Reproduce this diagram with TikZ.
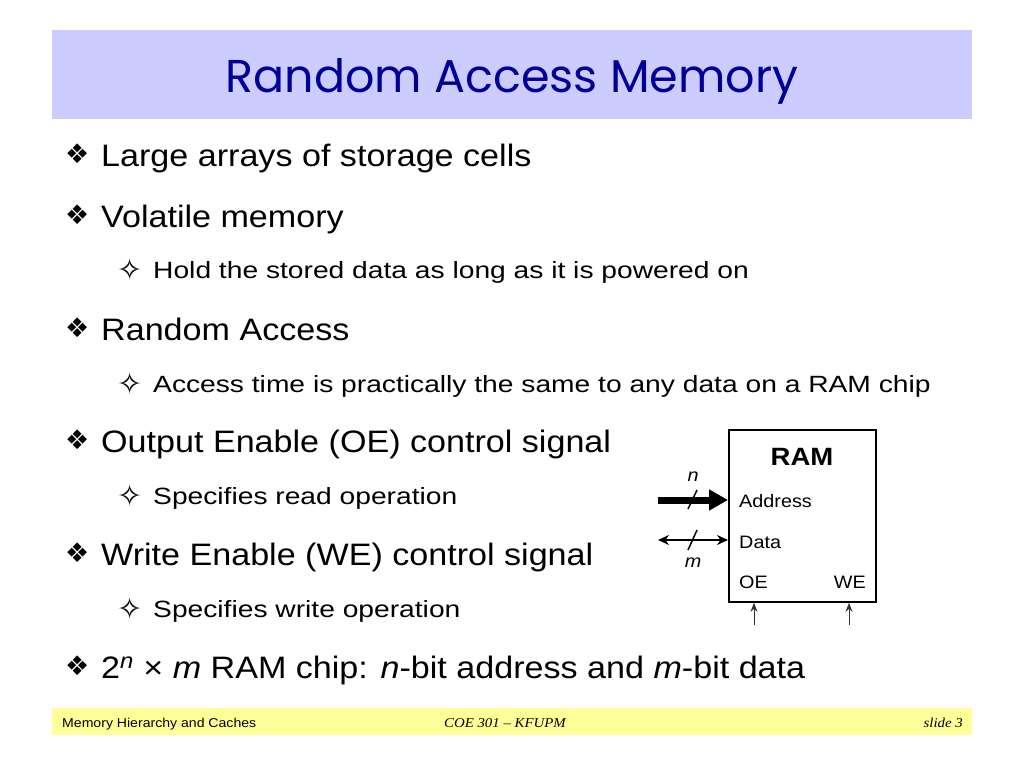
\documentclass[tikz,border=0pt]{standalone}
\usepackage{fontspec}
\setmainfont{Liberation Sans}[FakeStretch=1.1]
\newfontfamily\subfont{Liberation Sans}[FakeStretch=1.2]
\newfontfamily\symfont{DejaVu Sans}
\newfontfamily\titlefont{Poppins}
\newfontfamily\footserif{Liberation Serif}[FakeStretch=1.1]
\usetikzlibrary{arrows.meta}
\definecolor{titleband}{RGB}{204,204,255}
\definecolor{titleblue}{RGB}{0,0,153}
\definecolor{footband}{RGB}{255,255,153}
\newcommand{\mainbul}{\makebox[36pt][l]{\raisebox{2.5pt}{\symfont\fontsize{27}{27}\selectfont ❖}}}
\newcommand{\subbul}{\makebox[36pt][l]{\raisebox{-2.5pt}{\symfont\fontsize{30}{30}\selectfont ✧}}}
\tikzset{
	item/.style={anchor=base west,inner sep=0pt,font=\fontsize{31}{31}\selectfont},
	subitem/.style={anchor=base west,inner sep=0pt,font=\subfont\fontsize{23.5}{23.5}\selectfont},
	pin/.style={anchor=base west,inner sep=0pt,font=\fontsize{18}{18}\selectfont},
	foot/.style={inner sep=0pt,font=\fontsize{12.8}{12.8}\selectfont}
}
\begin{document}
\begin{tikzpicture}[x=1pt,y=-1pt]
	\useasboundingbox (0,0) rectangle (1024,768);
	\fill [titleband] (52,30) rectangle (972,119);
	\fill [footband] (52,708) rectangle (972,735);
	\node [anchor=base,inner sep=0pt,text=titleblue,font=\titlefont\fontsize{46}{46}\selectfont] (title) at (512,92) {Random Access Memory};

	\node [item] (i1) at (65,166) {\mainbul Large arrays of storage cells};
	\node [item] (i2) at (65,227) {\mainbul Volatile memory};
	\node [subitem] (s2) at (117,278) {\subbul Hold the stored data as long as it is powered on};
	\node [item] (i3) at (65,340) {\mainbul Random Access};
	\node [subitem] (s3) at (117,392) {\subbul Access time is practically the same to any data on a RAM chip};
	\node [item] (i4) at (65,452) {\mainbul Output Enable (OE) control signal};
	\node [subitem] (s4) at (117,504) {\subbul Specifies read operation};
	\node [item] (i5) at (65,565) {\mainbul Write Enable (WE) control signal};
	\node [subitem] (s5) at (117,617) {\subbul Specifies write operation};
	\node [item] (i6) at (65,678) {\mainbul 2\textsuperscript{\itshape n} × \textit{m} RAM chip: \textit{n}-bit address and \textit{m}-bit data};

	% RAM chip
	\node [draw,line width=1.8pt,minimum width=147pt,minimum height=172pt,anchor=north west] (ram) at (728,429) {};
	\node [anchor=base,inner sep=0pt,font=\bfseries\fontsize{25}{25}\selectfont] (ramname) at (802,465) {RAM};
	\node [pin] (addr) at (739,507) {Address};
	\node [pin] (data) at (739,548) {Data};
	\node [pin] (oe) at (739,588) {OE};
	\node [pin,anchor=base east] (we) at (866,588) {WE};
	\coordinate (ain) at (658,500);
	\coordinate (din) at (658,540);
	\coordinate (oein) at (754,625);
	\coordinate (wein) at (849,625);
	\draw [line width=7pt,-{Triangle[length=19pt,width=20pt]}] (ain) -- (ain -| ram.west);
	\draw [line width=1.8pt,{Stealth[length=11pt,width=10pt]}-{Stealth[length=11pt,width=10pt]}] (din) -- (din -| ram.west);
	\draw [line width=1.5pt] (688,509) -- (697,490);
	\draw [line width=1.5pt] (688,550) -- (697,530);
	\node [font=\itshape\fontsize{18}{18}\selectfont] (nlbl) at (693,477) {n};
	\node [font=\itshape\fontsize{18}{18}\selectfont] (mlbl) at (693,563) {m};
	\draw [line width=1pt,black!80,-{Stealth[length=9pt,width=7pt]}] (oein) -- (oein |- ram.south);
	\draw [line width=1pt,black!80,-{Stealth[length=9pt,width=7pt]}] (wein) -- (wein |- ram.south);

	% footer
	\node [foot,anchor=base west] (fleft) at (62,727) {Memory Hierarchy and Caches};
	\node [foot,anchor=base,font=\footserif\itshape\fontsize{13.5}{13.5}\selectfont] (fmid) at (505,727) {COE 301 – KFUPM};
	\node [foot,anchor=base east,font=\footserif\itshape\fontsize{13.5}{13.5}\selectfont] (fright) at (963,727) {slide 3};
\end{tikzpicture}
\end{document}
